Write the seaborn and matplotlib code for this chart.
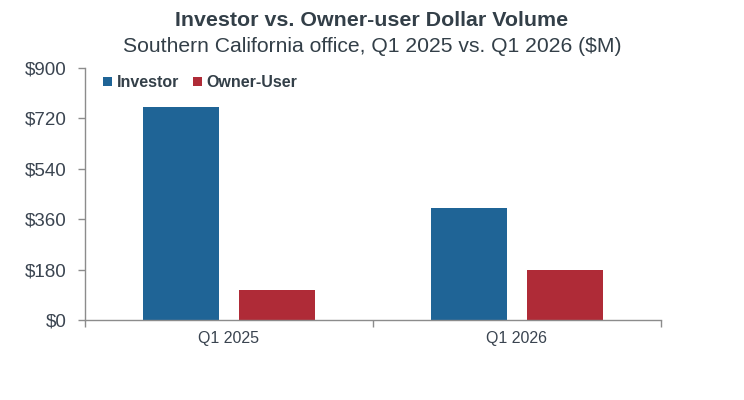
import matplotlib
matplotlib.use("Agg")
import matplotlib.pyplot as plt
import seaborn as sns
import pandas as pd
from matplotlib.ticker import FixedLocator, FuncFormatter
from matplotlib.patches import Patch

quarters = ["Q1 2025", "Q1 2026"]
series = ["Investor", "Owner-User"]
investor = [762, 400]
owner_user = [107, 179]
y_ticks = [0, 180, 360, 540, 720, 900]
colors = ["#1F6496", "#AF2B37"]

df = pd.DataFrame({
    "quarter": quarters * 2,
    "type": [series[0]] * 2 + [series[1]] * 2,
    "value": investor + owner_user,
})

sns.set_theme(style="white")
plt.rcParams["font.family"] = ["Liberation Sans", "DejaVu Sans"]

fig = plt.figure(figsize=(7.44, 4.0), dpi=100)
ax = fig.add_axes([85/744, 80/400, (661-85)/744, (320-68)/400])

sns.barplot(data=df, x="quarter", y="value", hue="type", order=quarters,
            hue_order=series, palette=colors, width=0.667, gap=0.2,
            saturation=1, ax=ax, legend=False, linewidth=0)

ax.set_ylim(0, 900)
ax.set_xlim(-0.5, 1.5)
ax.yaxis.set_major_locator(FixedLocator(y_ticks))
ax.yaxis.set_major_formatter(FuncFormatter(lambda v, p: f"${int(v)}"))
ax.set_xlabel("")
ax.set_ylabel("")

for s in ["top", "right"]:
    ax.spines[s].set_visible(False)
for s in ["left", "bottom"]:
    ax.spines[s].set_color("#8C8C8C")
    ax.spines[s].set_linewidth(1.0)

ax.tick_params(axis="y", which="major", length=5, width=1, color="#8C8C8C",
               labelsize=13.5, labelcolor="#3A4450", pad=8, left=True)
ax.tick_params(axis="x", which="major", length=0, labelsize=11.5,
               labelcolor="#3A4450", pad=8)
ax.set_xticks([-0.5, 0.5, 1.5], minor=True)
ax.tick_params(axis="x", which="minor", length=5, width=1, color="#8C8C8C",
               bottom=True)

handles = [Patch(facecolor=c, edgecolor="none") for c in colors]
leg = ax.legend(handles, series, loc="upper left", bbox_to_anchor=(0.006, 1.028),
                ncol=2, frameon=False, handlelength=0.55, handleheight=0.55,
                handletextpad=0.3, columnspacing=0.9,
                prop={"weight": "bold", "size": 11.5})
for t in leg.get_texts():
    t.set_color("#333F48")

fig.text(0.5, 1 - 20/400, "Investor vs. Owner-user Dollar Volume", ha="center",
         va="center", fontsize=15.4, fontweight="bold", color="#333F48")
fig.text(0.5, 1 - 46/400, "Southern California office, Q1 2025 vs. Q1 2026 ($M)",
         ha="center", va="center", fontsize=15.2, color="#333F48")

fig.savefig("out.png", dpi=100)
